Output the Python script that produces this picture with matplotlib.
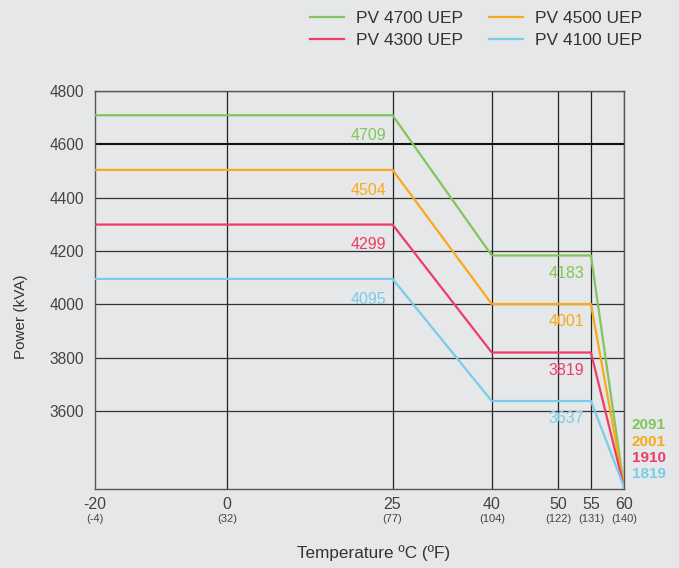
import numpy as np
from matplotlib import pyplot as plt
from matplotlib.transforms import blended_transform_factory

plt.rcParams['font.family'] = ['Liberation Sans', 'DejaVu Sans']

temps = [-20, 25, 40, 55, 60]
names = ['PV 4700 UEP', 'PV 4500 UEP', 'PV 4300 UEP', 'PV 4100 UEP']
colors = ['#82c55b', '#f9aa1c', '#ee3c66', '#79cde8']
p_low = [4709, 4504, 4299, 4095]    # up to 25 C
p_mid = [4183, 4001, 3819, 3637]    # 40..55 C
p_end = [2091, 2001, 1910, 1819]    # at 60 C (off scale)
end_plot = 3315                     # where the lines meet on the chart

xticks = [-20, 0, 25, 40, 50, 55, 60]
fticks = ['(-4)', '(32)', '(77)', '(104)', '(122)', '(131)', '(140)']
yticks = [3600, 3800, 4000, 4200, 4400, 4600, 4800]

bg = '#e6e7e9'
fig = plt.figure(figsize=(6.79, 5.68), dpi=100, facecolor=bg)
ax = fig.add_axes([95/679, 1-489/568, (624-95)/679, (489-91)/568])
ax.set_facecolor(bg)

for x in xticks[1:]:
    ax.axvline(x, color='#222222', lw=0.9, zorder=1)
for y in yticks:
    ax.axhline(y, color='#111111' if y == 4600 else '#333333',
               lw=1.5 if y == 4600 else 0.9, zorder=1)

handles = []
for i in range(4):
    ys = [p_low[i], p_low[i], p_mid[i], p_mid[i], end_plot]
    h, = ax.plot(temps, ys, color=colors[i], lw=1.6, label=names[i], zorder=3)
    handles.append(h)
    ax.text(25 - 1, p_low[i] - 48, str(p_low[i]), color=colors[i],
            fontsize=11.5, ha='right', va='top')
    ax.text(51.3, p_mid[i] - 38, str(p_mid[i]), color=colors[i],
            fontsize=11.5, ha='center', va='top')
    ax.text(632/679, (568-425-i*16.5)/568, str(p_end[i]), color=colors[i],
            fontsize=11, fontweight='bold', transform=fig.transFigure,
            ha='left', va='center')

ax.set_xlim(-20, 60)
ax.set_ylim(3307, 4800)
ax.set_xticks(xticks)
ax.set_xticklabels([str(t) for t in xticks])
ax.set_yticks(yticks)
ax.tick_params(length=0, labelsize=11.2, labelcolor='#444444', pad=8)
ax.tick_params(axis='x', labelsize=11.5, pad=6)
for s in ax.spines.values():
    s.set_color('#555555')
    s.set_linewidth(1)

tr = blended_transform_factory(ax.transData, fig.transFigure)
for x, f in zip(xticks, fticks):
    ax.text(x, 1-519/568, f, transform=tr, ha='center', va='center',
            fontsize=8, color='#444444')

fig.text(374/679, 1-553/568, 'Temperature ºC (ºF)', ha='center', va='center',
         fontsize=12.3, color='#333333')
fig.text(21/679, 1-317/568, 'Power (kVA)', ha='center', va='center',
         rotation=90, fontsize=11, color='#333333')

order = [0, 2, 1, 3]
fig.legend([handles[k] for k in order], [names[k] for k in order],
           loc='upper left', bbox_to_anchor=(294/679, 1.008), ncol=2, frameon=False,
           fontsize=12.5, handlelength=2.0, columnspacing=1.5, labelcolor='#333333',
           handletextpad=0.65, labelspacing=0.4)

fig.savefig('out.png', dpi=100, facecolor=bg)
